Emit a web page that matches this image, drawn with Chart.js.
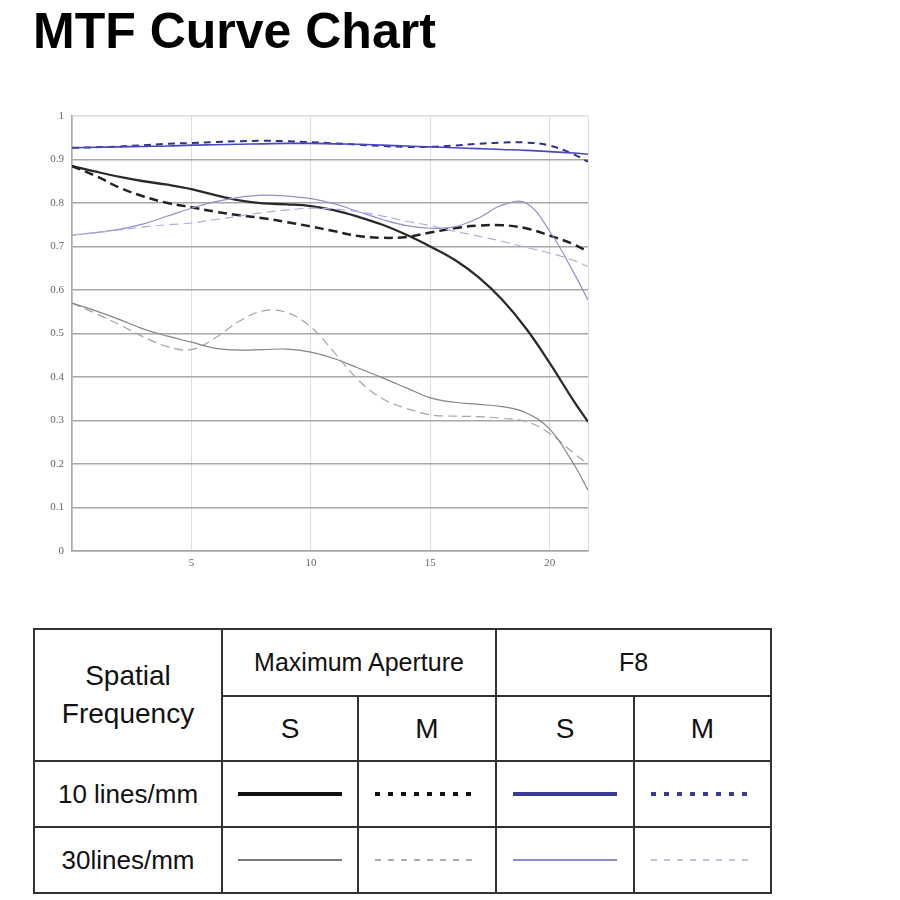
<!DOCTYPE html>
<html>
<head>
<meta charset="utf-8">
<script src="https://cdn.jsdelivr.net/npm/chart.js@4/dist/chart.umd.min.js"></script>
<style>
  body { margin: 0; width: 900px; height: 900px; background: #fff; position: relative; overflow: hidden; }
  h1 { position: absolute; left: 33px; top: 0; margin: 0; font: bold 50px "Liberation Sans", Arial, sans-serif; line-height: 62px; color: #000; }
  #chartBox { position: absolute; left: 20px; top: 100px; width: 578px; height: 481px; }
  table { position: absolute; left: 33px; top: 628px; border-collapse: collapse; font-family: "Liberation Sans", Arial, sans-serif; color: #111; }
  td { border: 2px solid #333; text-align: center; padding: 0; }
  .hd { font-size: 28px; line-height: 38px; }
  .sm { font-size: 28px; }
  .mx { font-size: 25px; }
  .rl { font-size: 26px; }
  .ln { width: 104px; margin: 0 auto; height: 0; }
  .dot { width: 104px; margin: 0 auto; height: 4px; }
</style>
</head>
<body>
<h1>MTF Curve Chart</h1>
<div id="chartBox"><canvas id="mtf"></canvas></div>

<table>
  <tr style="height:67px">
    <td rowspan="2" class="hd" style="width:186px">Spatial<br>Frequency</td>
    <td colspan="2" class="mx">Maximum Aperture</td>
    <td colspan="2" class="mx">F8</td>
  </tr>
  <tr style="height:65px">
    <td class="sm" style="width:134px">S</td>
    <td class="sm" style="width:136px">M</td>
    <td class="sm" style="width:136px">S</td>
    <td class="sm" style="width:135px">M</td>
  </tr>
  <tr style="height:66px">
    <td class="rl">10 lines/mm</td>
    <td><div class="ln" style="border-top:4px solid #111"></div></td>
    <td><div class="dot" style="background:repeating-linear-gradient(90deg,#111 0 5px,transparent 5px 13px)"></div></td>
    <td><div class="ln" style="border-top:4px solid #3a3a96"></div></td>
    <td><div class="dot" style="background:repeating-linear-gradient(90deg,#3a3a96 0 5px,transparent 5px 13px)"></div></td>
  </tr>
  <tr style="height:66px">
    <td class="rl">30lines/mm</td>
    <td><div class="ln" style="border-top:2px solid #777"></div></td>
    <td><div class="dot" style="height:2px;background:repeating-linear-gradient(90deg,#aaa 0 6px,transparent 6px 13px)"></div></td>
    <td><div class="ln" style="border-top:2px solid #8a8acc"></div></td>
    <td><div class="dot" style="height:2px;background:repeating-linear-gradient(90deg,#c0c0d8 0 6px,transparent 6px 13px)"></div></td>
  </tr>
</table>

<script>
// spatial position across the frame (mm)
const positions = [0, 1, 2, 3, 4, 5, 6, 7, 8, 9, 10, 11, 12, 13, 14, 15, 16, 17, 18, 19, 20, 21, 21.6];

// maximum aperture
const maxS10 = [0.885, 0.872, 0.860, 0.850, 0.842, 0.832, 0.818, 0.806, 0.799, 0.797, 0.793, 0.783, 0.768, 0.750, 0.727, 0.700, 0.670, 0.630, 0.578, 0.512, 0.432, 0.345, 0.297];
const maxM10 = [0.885, 0.862, 0.835, 0.815, 0.800, 0.790, 0.780, 0.772, 0.765, 0.756, 0.746, 0.735, 0.724, 0.720, 0.722, 0.732, 0.742, 0.748, 0.749, 0.742, 0.725, 0.705, 0.688];
const maxS30 = [0.570, 0.552, 0.532, 0.510, 0.494, 0.480, 0.466, 0.462, 0.463, 0.464, 0.457, 0.442, 0.420, 0.398, 0.375, 0.352, 0.342, 0.337, 0.332, 0.318, 0.280, 0.200, 0.140];
const maxM30 = [0.570, 0.546, 0.520, 0.492, 0.470, 0.463, 0.490, 0.528, 0.552, 0.548, 0.515, 0.455, 0.392, 0.350, 0.328, 0.313, 0.310, 0.309, 0.305, 0.298, 0.270, 0.225, 0.200];

// F8
const f8S10 = [0.927, 0.928, 0.929, 0.930, 0.931, 0.933, 0.934, 0.935, 0.936, 0.937, 0.937, 0.936, 0.935, 0.933, 0.931, 0.929, 0.927, 0.925, 0.923, 0.921, 0.918, 0.915, 0.912];
const f8M10 = [0.927, 0.928, 0.930, 0.933, 0.936, 0.938, 0.940, 0.942, 0.943, 0.942, 0.940, 0.937, 0.934, 0.931, 0.929, 0.929, 0.932, 0.936, 0.939, 0.939, 0.932, 0.912, 0.895];
const f8S30 = [0.726, 0.732, 0.740, 0.752, 0.770, 0.788, 0.803, 0.813, 0.818, 0.816, 0.810, 0.798, 0.780, 0.762, 0.748, 0.742, 0.745, 0.765, 0.795, 0.800, 0.735, 0.640, 0.577];
const f8M30 = [0.726, 0.732, 0.738, 0.745, 0.750, 0.754, 0.762, 0.770, 0.778, 0.784, 0.788, 0.786, 0.780, 0.770, 0.758, 0.748, 0.735, 0.724, 0.712, 0.698, 0.685, 0.668, 0.654];

const yTicks = [0, 0.1, 0.2, 0.3, 0.4, 0.5, 0.6, 0.7, 0.8, 0.9, 1];
const xTicks = [0, 5, 10, 15, 20, 21.6];
const xLabels = ['5', '10', '15', '20'];

function series(label, values, color, width, dash) {
  return {
    label,
    data: positions.map((x, i) => ({ x, y: values[i] })),
    borderColor: color,
    borderWidth: width,
    borderDash: dash,
    pointRadius: 0,
    tension: 0.4,
    fill: false,
  };
}

new Chart(document.getElementById('mtf'), {
  type: 'line',
  data: {
    datasets: [
      series('Max S 30', maxS30, '#858585', 1.2, []),
      series('Max M 30', maxM30, '#a5a5a5', 1.2, [9, 5]),
      series('F8 M 30', f8M30, '#aeaede', 1.2, [9, 5]),
      series('F8 S 30', f8S30, '#9090d0', 1.2, []),
      series('Max M 10', maxM10, '#222', 2.5, [9, 5]),
      series('Max S 10', maxS10, '#2a2a2a', 2.3, []),
      series('F8 S 10', f8S10, '#4848c0', 1.6, []),
      series('F8 M 10', f8M10, '#303090', 2, [7, 5]),
    ],
  },
  options: {
    responsive: true,
    maintainAspectRatio: false,
    animation: false,
    layout: { padding: { top: 16, right: 10, left: 0, bottom: 0 } },
    plugins: { legend: { display: false }, tooltip: { enabled: false } },
    scales: {
      x: {
        type: 'linear',
        min: 0,
        max: 21.6,
        afterBuildTicks: (axis) => { axis.ticks = xTicks.map((v) => ({ value: v })); },
        afterFit: (axis) => { axis.height = 30; },
        ticks: {
          autoSkip: false,
          maxRotation: 0,
          padding: 6,
          color: '#666',
          font: { family: '"Liberation Serif", "Times New Roman", serif', size: 11 },
          callback: (v) => (v === 0 || v === 21.6 ? '' : xLabels[[5, 10, 15, 20].indexOf(v)]),
        },
        grid: { color: '#dedede', lineWidth: 1, drawTicks: false },
        border: { color: '#a8a8a8', width: 1.5 },
      },
      y: {
        min: 0,
        max: 1,
        afterBuildTicks: (axis) => { axis.ticks = yTicks.map((v) => ({ value: v })); },
        afterFit: (axis) => { axis.width = 52; },
        ticks: {
          padding: 8,
          color: '#666',
          font: { family: '"Liberation Serif", "Times New Roman", serif', size: 11 },
          callback: (v) => String(v),
        },
        grid: {
          color: (ctx) => (ctx.tick && ctx.tick.value === 1 ? '#dedede' : '#a8a8a8'),
          lineWidth: 1.5,
          drawTicks: false,
        },
        border: { color: '#a8a8a8', width: 1.5 },
      },
    },
  },
});
</script>
</body>
</html>
